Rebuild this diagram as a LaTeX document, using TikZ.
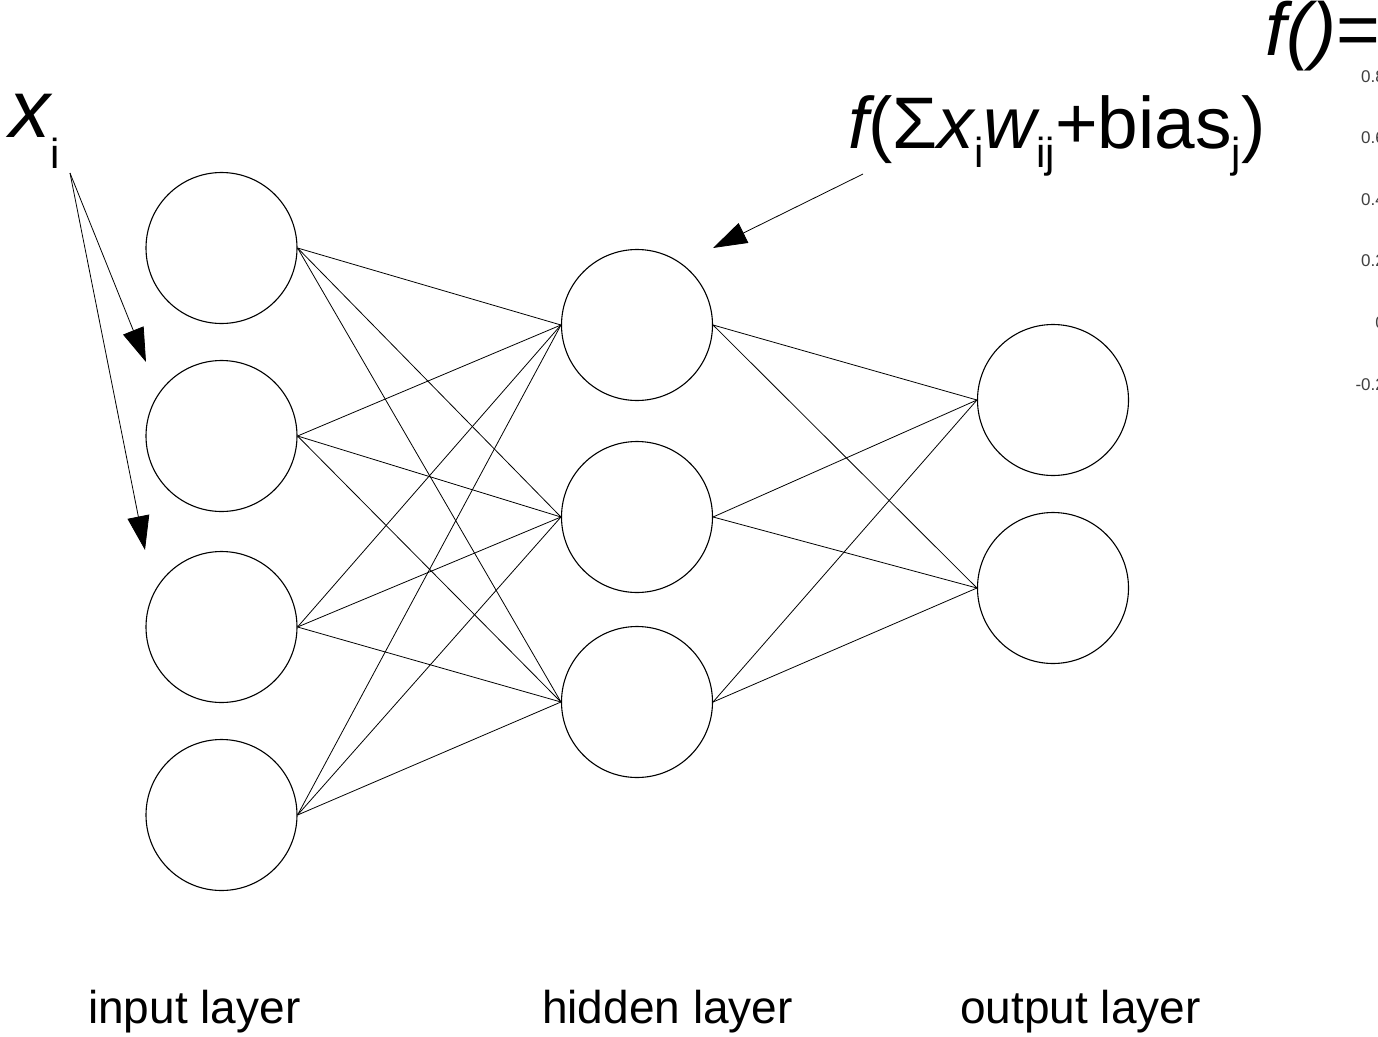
\documentclass[tikz,border=0pt]{standalone}
\usepackage{fontspec}
\setmainfont{Liberation Sans}
\usetikzlibrary{arrows.meta}

\newcommand{\lowsub}[2]{\raisebox{-#1pt}{\fontsize{42}{42}\selectfont #2}}

\begin{document}
\begin{tikzpicture}[x=1pt, y=-1pt,
    neuron/.style={circle, draw, minimum size=151pt, inner sep=0pt, line width=1.1pt},
    layertext/.style={anchor=base west, inner sep=0pt, font=\fontsize{46}{50}\selectfont},
    tick/.style={anchor=east, inner sep=0pt, text=black!75, font=\fontsize{17}{17}\selectfont},
    pointer/.style={-{Triangle[length=34pt, width=22pt]}, line width=0.8pt}]
        \useasboundingbox (0,0) rectangle (1378,1036);
        \clip (0,0) rectangle (1378,1036);
        % input layer
        \node[neuron] (i1) at (221.5,248) {};
        \node[neuron] (i2) at (221.5,436) {};
        \node[neuron] (i3) at (221.5,627) {};
        \node[neuron] (i4) at (221.5,815) {};
        % hidden layer
        \node[neuron] (h1) at (637,325) {};
        \node[neuron] (h2) at (637,517) {};
        \node[neuron] (h3) at (637,702) {};
        % output layer
        \node[neuron] (o1) at (1053,400) {};
        \node[neuron] (o2) at (1053,588) {};
        % weights
        \begin{scope}[line width=0.8pt]
        \draw (i1.east) -- (h1.west); \draw (i1.east) -- (h2.west); \draw (i1.east) -- (h3.west);
        \draw (i2.east) -- (h1.west); \draw (i2.east) -- (h2.west); \draw (i2.east) -- (h3.west);
        \draw (i3.east) -- (h1.west); \draw (i3.east) -- (h2.west); \draw (i3.east) -- (h3.west);
        \draw (i4.east) -- (h1.west); \draw (i4.east) -- (h2.west); \draw (i4.east) -- (h3.west);
        \draw (h1.east) -- (o1.west); \draw (h1.east) -- (o2.west);
        \draw (h2.east) -- (o1.west); \draw (h2.east) -- (o2.west);
        \draw (h3.east) -- (o1.west); \draw (h3.east) -- (o2.west);
        \end{scope}
        % annotations
        \node[anchor=base west, inner sep=0pt] (xi) at (9,137)
            {{\fontsize{82}{82}\selectfont\itshape x}\lowsub{31}{i}};
        \coordinate (xsrc) at (70,173);
        \coordinate (xtip1) at (146,362);
        \coordinate (xtip2) at (145,550);
        \draw[pointer] (xsrc) -- (xtip1);
        \draw[pointer] (xsrc) -- (xtip2);
        \node[anchor=base west, inner sep=0pt, font=\fontsize{73}{73}\selectfont] (sum) at (848,148)
            {{\itshape f}(Σ{\itshape x}\lowsub{19}{i}{\itshape w}\lowsub{19}{ij}+bias\lowsub{19}{j})};
        \coordinate (fsrc) at (863,174);
        \coordinate (ftip) at (713,248);
        \draw[pointer] (fsrc) -- (ftip);
        \node[anchor=base west, inner sep=0pt, font=\fontsize{75}{75}\selectfont] (fdef) at (1265,55)
            {{\itshape f()}=};
        % axis of the activation plot
        \node[tick] (t1) at (1385,77) {0.8};
        \node[tick] (t2) at (1385,138) {0.6};
        \node[tick] (t3) at (1385,200) {0.4};
        \node[tick] (t4) at (1385,261) {0.2};
        \node[tick] (t5) at (1385,323) {0};
        \node[tick] (t6) at (1385,385) {-0.2};
        % layer names
        \node[layertext] (lin) at (88,1023) {input layer};
        \node[layertext] (lhid) at (542,1023) {hidden layer};
        \node[layertext] (lout) at (960,1023) {output layer};
    \end{tikzpicture}
\end{document}
